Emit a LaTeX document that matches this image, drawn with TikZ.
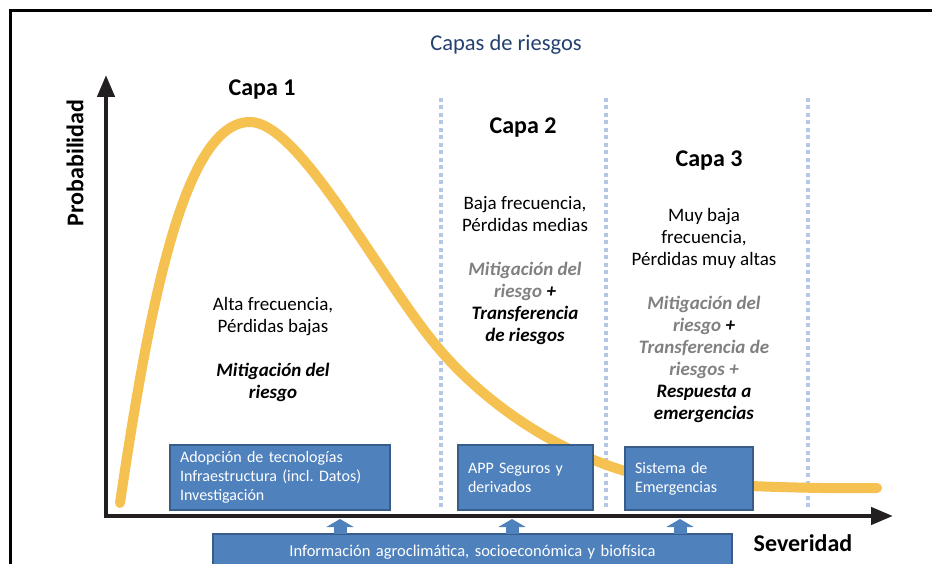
\documentclass[tikz,border=0pt]{standalone}
\usepackage{fontspec}
\setmainfont{Carlito}
\usepackage{tikz}
\usetikzlibrary{arrows.meta, positioning, calc}
\definecolor{mynavy}{RGB}{35,64,110}
\definecolor{mydark}{RGB}{35,31,32}
\definecolor{myyellow}{RGB}{245,193,80}
\definecolor{myblue}{RGB}{79,129,189}
\definecolor{myblueline}{RGB}{56,93,138}
\definecolor{mydots}{RGB}{180,199,231}
\definecolor{mygray}{RGB}{128,128,128}
\newcommand{\bit}[1]{\textbf{\textit{#1}}}
\newcommand{\gry}[1]{\textcolor{mygray}{\textbf{\textit{#1}}}}
\tikzset{
  capa/.style={font=\fontsize{24}{28}\selectfont\bfseries, inner sep=0pt},
  layertext/.style={align=center, font=\fontsize{19}{22}\selectfont, inner sep=0pt},
  bluebox/.style={rectangle, draw=myblueline, fill=myblue, text=white,
    line width=1.5pt, align=left, font=\fontsize{16}{19}\selectfont,
    inner xsep=10pt, inner ysep=0pt},
  axis/.style={line width=4.5pt, color=mydark, line join=miter,
    {Triangle[width=17pt,length=22pt]}-{Triangle[width=17pt,length=22pt]}},
  layerline/.style={line width=4pt, color=mydots, dash pattern=on 4pt off 3.5pt},
  riskcurve/.style={line width=10pt, color=myyellow, line cap=round},
  uparrow/.style={line width=13pt, color=myblue, -{Triangle[width=27pt,length=8pt]}}
}
\begin{document}
\begin{tikzpicture}[x=1pt, y=-1pt]
  \useasboundingbox (0,0) rectangle (932,564);
  \draw[line width=3pt] (10,570) -- (10,11) -- (940,11);

  \node[font=\fontsize{22.5}{26}\selectfont, text=mynavy, inner sep=0pt] (title) at (506,45) {Capas de riesgos};

  \foreach \x in {441,606,808}
    \draw[layerline] (\x,98) -- (\x,510);

  \draw[riskcurve] (120,503) .. controls (150,300) and (185,122) .. (250,122)
    .. controls (300,122) and (380,280) .. (440,350)
    .. controls (500,420) and (600,480) .. (700,484)
    .. controls (760,486.5) and (820,489) .. (877,488);

  \coordinate (origin) at (106,516);
  \coordinate (ytip) at (106,75);
  \coordinate (xtip) at (893,516);
  \draw[axis] (ytip) -- (origin) -- (xtip);

  \node[capa, rotate=90] (prob) at (75,163) {Probabilidad};
  \node[capa] (sev) at (803,543) {Severidad};

  \node[capa] (capa1) at (262,90) {Capa 1};
  \node[capa] (capa2) at (523,128) {Capa 2};
  \node[capa] (capa3) at (709,161) {Capa 3};

  \node[layertext] (txt1) at (273,350) {Alta frecuencia,\\Pérdidas bajas\\[22pt]\bit{Mitigación del}\\\bit{riesgo}};
  \node[layertext] (txt2) at (525,271) {Baja frecuencia,\\Pérdidas medias\\[22pt]\gry{Mitigación del}\\\gry{riesgo} \bit{+}\\\bit{Transferencia}\\\bit{de riesgos}};
  \node[layertext] (txt3) at (704,316) {Muy baja\\frecuencia,\\Pérdidas muy altas\\[22pt]\gry{Mitigación del}\\\gry{riesgo} \bit{+}\\\gry{Transferencia de}\\\gry{riesgos +}\\\bit{Respuesta a}\\\bit{emergencias}};

  \node[bluebox, minimum width=220pt, minimum height=65pt, text width=200pt] (tech) at (280,477.5) {Adopción de tecnologías\\Infraestructura (incl.\ Datos)\\Investigación};
  \node[bluebox, minimum width=135pt, minimum height=65pt, text width=115pt] (seguros) at (525.5,477.5) {APP Seguros y\\derivados};
  \node[bluebox, minimum width=128pt, minimum height=63pt, text width=108pt] (emerg) at (689,478.5) {Sistema de\\Emergencias};
  \node[bluebox, align=center, minimum width=519pt, minimum height=36pt, text width=499pt, font=\fontsize{16.5}{19}\selectfont] (info) at (472.5,552) {Información agroclimática, socioeconómica y biofísica};

  \coordinate (up1) at (340,519);
  \coordinate (up2) at (512,519);
  \coordinate (up3) at (680,519);
  \draw[uparrow] ($(info.north -| up1)+(0,1)$) -- (up1);
  \draw[uparrow] ($(info.north -| up2)+(0,1)$) -- (up2);
  \draw[uparrow] ($(info.north -| up3)+(0,1)$) -- (up3);
\end{tikzpicture}
\end{document}
